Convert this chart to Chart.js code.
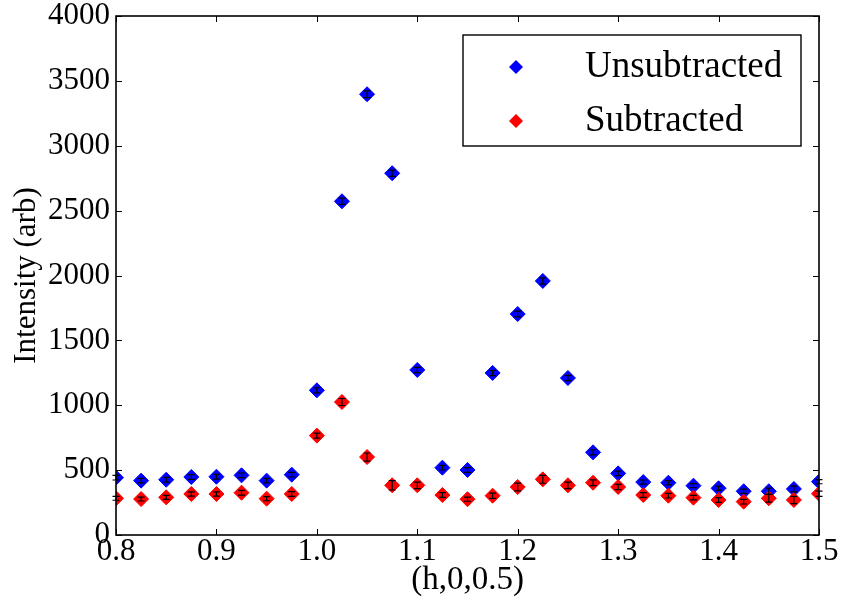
<!DOCTYPE html>
<html>
<head>
<meta charset="utf-8">
<script src="https://cdn.jsdelivr.net/npm/chart.js@4"></script>
<style>
  html, body { margin: 0; padding: 0; background: #fff; }
  #wrap { width: 843px; height: 603px; position: relative; }
</style>
</head>
<body>
<div id="wrap"><canvas id="chart" width="843" height="603"></canvas></div>
<script>
// ── Data ───────────────────────────────────────────────────────
const H_VALUES = [
  0.8, 0.825, 0.85, 0.875, 0.9, 0.925, 0.95, 0.975, 1.0, 1.025,
  1.05, 1.075, 1.1, 1.125, 1.15, 1.175, 1.2, 1.225, 1.25, 1.275,
  1.3, 1.325, 1.35, 1.375, 1.4, 1.425, 1.45, 1.475, 1.5,
];
const UNSUB = [
  442, 419, 426, 447, 449, 460, 419, 465, 1115, 2572,
  3397, 2788, 1272, 519, 501, 1249, 1703, 1958, 1210, 637,
  475, 408, 403, 380, 360, 337, 337, 355, 411,
];
const UNSUB_ERR = [
  18, 18, 18, 18, 18, 18, 18, 18, 20, 24,
  26, 24, 20, 18, 18, 20, 22, 24, 20, 20,
  18, 16, 16, 16, 16, 16, 24, 22, 16,
];
const SUB = [
  283, 277, 290, 316, 316, 326, 280, 316, 766, 1025,
  601, 383, 383, 308, 276, 303, 370, 429, 383, 403,
  370, 308, 303, 288, 270, 257, 283, 270, 318,
];
const SUB_ERR = [
  15, 15, 16, 16, 16, 18, 16, 18, 19, 27,
  31, 36, 25, 18, 16, 20, 30, 30, 25, 22,
  20, 18, 18, 18, 18, 18, 30, 28, 20,
];
const X_TICKS = [0.8, 0.9, 1.0, 1.1, 1.2, 1.3, 1.4, 1.5];
const Y_TICKS = [0, 500, 1000, 1500, 2000, 2500, 3000, 3500, 4000];

const FONT = '"Liberation Serif", "DejaVu Serif", serif';

// ── Plugins ────────────────────────────────────────────────────
// white background
const bgPlugin = {
  id: 'bg',
  beforeDraw(chart) {
    const ctx = chart.ctx;
    ctx.save();
    ctx.fillStyle = '#fff';
    ctx.fillRect(0, 0, chart.width, chart.height);
    ctx.restore();
  },
};

// error bars (black I-shapes) drawn over the markers
const errorBarPlugin = {
  id: 'errorBars',
  afterDatasetsDraw(chart) {
    const { ctx, scales: { x, y } } = chart;
    ctx.save();
    ctx.strokeStyle = '#000';
    ctx.lineWidth = 1.2;
    chart.data.datasets.forEach(ds => {
      ds.data.forEach((p, i) => {
        const e = ds.errors[i];
        const px = x.getPixelForValue(p.x);
        const top = y.getPixelForValue(p.y + e);
        const bot = y.getPixelForValue(p.y - e);
        ctx.beginPath();
        ctx.moveTo(px, top); ctx.lineTo(px, bot);
        ctx.moveTo(px - 3.5, top); ctx.lineTo(px + 3.5, top);
        ctx.moveTo(px - 3.5, bot); ctx.lineTo(px + 3.5, bot);
        ctx.stroke();
      });
    });
    ctx.restore();
  },
};

// frame with inward ticks on all four sides, plus the legend box
const framePlugin = {
  id: 'frame',
  afterDraw(chart) {
    const { ctx, chartArea: a, scales: { x, y } } = chart;
    const len = 6;
    ctx.save();
    ctx.strokeStyle = '#000';
    ctx.lineWidth = 1;
    ctx.beginPath();
    X_TICKS.forEach(v => {
      const px = Math.round(x.getPixelForValue(v)) + 0.5;
      ctx.moveTo(px, a.bottom); ctx.lineTo(px, a.bottom - len);
      ctx.moveTo(px, a.top); ctx.lineTo(px, a.top + len);
    });
    Y_TICKS.forEach(v => {
      const py = Math.round(y.getPixelForValue(v)) + 0.5;
      ctx.moveTo(a.left, py); ctx.lineTo(a.left + len, py);
      ctx.moveTo(a.right, py); ctx.lineTo(a.right - len, py);
    });
    ctx.stroke();
    ctx.lineWidth = 1.6;
    ctx.strokeRect(a.left, a.top, a.right - a.left, a.bottom - a.top);

    // legend
    const lx = 463, ly = 35, lw = 338, lh = 111;
    ctx.fillStyle = '#fff';
    ctx.fillRect(lx, ly, lw, lh);
    ctx.lineWidth = 1.4;
    ctx.strokeRect(lx, ly, lw, lh);
    ctx.font = '37px ' + FONT;
    ctx.textBaseline = 'alphabetic';
    ctx.textAlign = 'left';
    chart.data.datasets.forEach((ds, i) => {
      const cy = ly + 32 + i * 54;
      ctx.fillStyle = ds.backgroundColor;
      ctx.beginPath();
      ctx.moveTo(516, cy - 7); ctx.lineTo(523, cy);
      ctx.lineTo(516, cy + 7); ctx.lineTo(509, cy);
      ctx.closePath();
      ctx.fill();
      ctx.fillStyle = '#000';
      ctx.fillText(ds.label, 585, cy + 10);
    });
    ctx.restore();
  },
};

// ── Chart ──────────────────────────────────────────────────────
const mkData = vals => vals.map((v, i) => ({ x: H_VALUES[i], y: v }));

new Chart(document.getElementById('chart').getContext('2d'), {
  type: 'scatter',
  data: {
    datasets: [
      {
        label: 'Unsubtracted',
        data: mkData(UNSUB),
        errors: UNSUB_ERR,
        backgroundColor: '#0000ff',
        borderColor: '#0000ff',
        borderWidth: 1,
        pointStyle: 'rectRot',
        pointRadius: 7.5,
        order: 2,
      },
      {
        label: 'Subtracted',
        data: mkData(SUB),
        errors: SUB_ERR,
        backgroundColor: '#ff0000',
        borderColor: '#ff0000',
        borderWidth: 1,
        pointStyle: 'rectRot',
        pointRadius: 7.5,
        order: 1,
      },
    ],
  },
  options: {
    responsive: false,
    animation: false,
    layout: { padding: { top: 16, right: 24, left: 0, bottom: 0 } },
    plugins: {
      legend: { display: false },
      tooltip: { enabled: false },
    },
    scales: {
      x: {
        type: 'linear',
        min: 0.8,
        max: 1.5,
        afterFit: s => { s.height = 68; s.paddingLeft = 0; s.paddingRight = 0; },
        afterBuildTicks: s => { s.ticks = X_TICKS.map(v => ({ value: v })); },
        ticks: {
          color: '#000',
          padding: -2,
          font: { family: FONT, size: 31 },
          callback: v => Number(v).toFixed(1),
          maxRotation: 0,
          autoSkip: false,
        },
        grid: { display: false, drawTicks: false, tickLength: 0 },
        border: { display: false },
        title: {
          display: true,
          text: '(h,0,0.5)',
          color: '#000',
          font: { family: FONT, size: 33 },
          padding: { top: 0, bottom: 3 },
        },
      },
      y: {
        type: 'linear',
        min: 0,
        max: 4000,
        afterFit: s => { s.width = 116; s.paddingTop = 0; s.paddingBottom = 0; },
        afterBuildTicks: s => { s.ticks = Y_TICKS.map(v => ({ value: v })); },
        ticks: {
          color: '#000',
          padding: 6,
          font: { family: FONT, size: 31 },
          callback: v => String(v),
          autoSkip: false,
        },
        grid: { display: false, drawTicks: false, tickLength: 0 },
        border: { display: false },
        title: {
          display: true,
          text: 'Intensity (arb)',
          color: '#000',
          font: { family: FONT, size: 31 },
          padding: { top: 8, bottom: 0 },
        },
      },
    },
  },
  plugins: [bgPlugin, errorBarPlugin, framePlugin],
});
</script>
</body>
</html>
